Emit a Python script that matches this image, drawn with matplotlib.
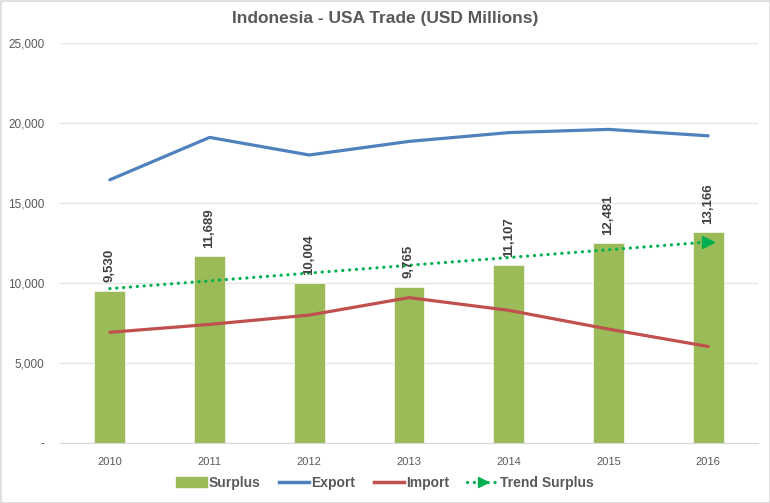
import matplotlib
matplotlib.use("Agg")
import matplotlib.pyplot as plt
import numpy as np
from matplotlib.lines import Line2D
from matplotlib.patches import Patch
from matplotlib.legend_handler import HandlerTuple

years = ["2010", "2011", "2012", "2013", "2014", "2015", "2016"]
surplus = [9530, 11689, 10004, 9765, 11107, 12481, 13166]
export = [16450, 19100, 18000, 18850, 19400, 19600, 19200]
imports = [6920, 7411, 7996, 9085, 8293, 7119, 6034]
yticks = [0, 5000, 10000, 15000, 20000, 25000]
ytick_labels = ["-", "5,000", "10,000", "15,000", "20,000", "25,000"]

plt.rcParams['font.family'] = ['Liberation Sans', 'DejaVu Sans']

W, H = 770, 503
fig = plt.figure(figsize=(W/100, H/100), dpi=100)
fig.patch.set_facecolor("white")
ax = fig.add_axes([60/W, 1-443/H, (758-60)/W, 400/H])

x = np.arange(len(years))
green = "#9BBB59"
trend_c = "#00B050"
ax.bar(x, surplus, width=0.31, color=green, edgecolor="#F0F5E6", linewidth=0.6, zorder=2)
ax.plot(x, export, color="#4F81BD", lw=2.3, zorder=3, solid_capstyle="round")
ax.plot(x, imports, color="#C0504D", lw=2.3, zorder=3, solid_capstyle="round")

# linear trend of surplus
coef = np.polyfit(x, surplus, 1)
trend = np.polyval(coef, x)
dots = (0, (0.05, 2.1))
ax.plot(x, trend, color=trend_c, lw=2.3, linestyle=dots, dash_capstyle="round", zorder=4)
ax.plot([x[-1]], [trend[-1]], marker=">", color=trend_c, markersize=8, zorder=4)

for xi, v in zip(x, surplus):
    ax.annotate(f"{v:,}", (xi, v), xytext=(0, 6), textcoords="offset points",
                rotation=90, ha="center", va="bottom", fontsize=9.5,
                fontweight="bold", color="#404040", zorder=5)

ax.set_xlim(-0.5, 6.5)
ax.set_ylim(0, 25000)
ax.set_yticks(yticks)
ax.set_yticklabels(ytick_labels, fontsize=8.5, color="#595959")
ax.set_xticks(x)
ax.set_xticklabels(years, fontsize=8, color="#595959")
ax.tick_params(axis="x", length=0, pad=10)
ax.tick_params(axis="y", length=0, pad=11)
ax.grid(axis="y", color="#E6E6E6", lw=1, zorder=0)
ax.set_axisbelow(True)
for s in ["top", "right", "left"]:
    ax.spines[s].set_visible(False)
ax.spines["bottom"].set_color("#D9D9D9")

fig.text(0.5, 1-18/H, "Indonesia - USA Trade (USD Millions)", ha="center", va="center",
         fontsize=12.5, fontweight="bold", color="#595959")

handles = [
    Patch(facecolor=green, edgecolor=green),
    Line2D([0], [0], color="#4F81BD", lw=2.5),
    Line2D([0], [0], color="#C0504D", lw=2.5),
    (Line2D([0], [0], color=trend_c, lw=2.3, linestyle=dots, dash_capstyle="round"),
     Line2D([0], [0], color=trend_c, marker=">", lw=0, markersize=7, markevery=[1])),
]
leg = fig.legend(handles, ["Surplus", "Export", "Import", "Trend Surplus"],
                 loc="center", bbox_to_anchor=(0.5, 1-483/H), ncol=4, frameon=False,
                 prop={"size": 10, "weight": "bold"}, labelcolor="#595959",
                 handlelength=2.2, handleheight=0.8, handletextpad=0.15, columnspacing=1.3,
                 handler_map={tuple: HandlerTuple(ndivide=1, pad=0)})

# border
fig.add_artist(plt.Rectangle((0.5/W, 0.5/H), 1-1/W, 1-1/H, transform=fig.transFigure,
                             fill=False, edgecolor="#D9D9D9", lw=1.2))
fig.savefig("out.png", dpi=100)
